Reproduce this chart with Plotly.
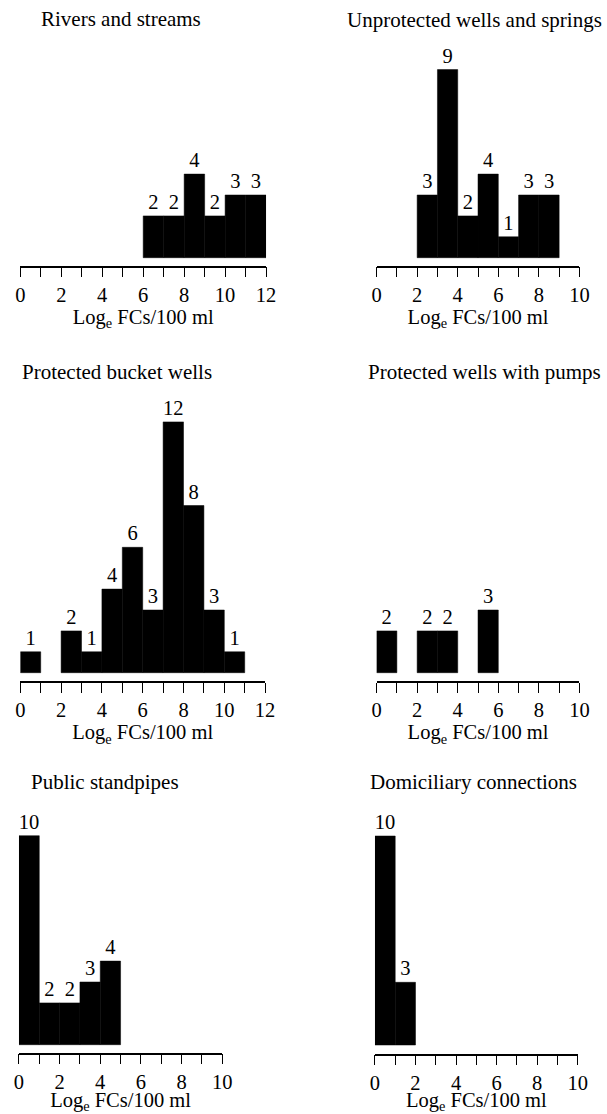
import plotly.graph_objects as go

# ---- data (bin left edges, log_e FCs/100 ml, and counts) ----
titles = ["Rivers and streams", "Unprotected wells and springs",
          "Protected bucket wells", "Protected wells with pumps",
          "Public standpipes", "Domiciliary connections"]

rivers_bins = [6, 7, 8, 9, 10, 11]
rivers_counts = [2, 2, 4, 2, 3, 3]

unprot_bins = [2, 3, 4, 5, 6, 7, 8]
unprot_counts = [3, 9, 2, 4, 1, 3, 3]

bucket_bins = [0, 2, 3, 4, 5, 6, 7, 8, 9, 10]
bucket_counts = [1, 2, 1, 4, 6, 3, 12, 8, 3, 1]

pumps_bins = [0, 2, 3, 5]
pumps_counts = [2, 2, 2, 3]

standpipe_bins = [0, 1, 2, 3, 4]
standpipe_counts = [10, 2, 2, 3, 4]

domicil_bins = [0, 1]
domicil_counts = [10, 3]

x_max = [12, 10, 12, 10, 10, 10]
x_title = "Log<sub>e</sub> FCs/100 ml"

series = [(rivers_bins, rivers_counts), (unprot_bins, unprot_counts),
          (bucket_bins, bucket_counts), (pumps_bins, pumps_counts),
          (standpipe_bins, standpipe_counts), (domicil_bins, domicil_counts)]

# ---- layout geometry (pixels) ----
W, H = 607, 1114
FONT = "Liberation Serif, Times New Roman, serif"
SCALE = 20.9  # px per count
# (x0px, x1px, axis_px, base_px, top_px, title_x, title_y)
geo = [
    (15.7, 267.7, 265.7, 257.7, 40, 35, 19),
    (381.0, 589.0, 265.7, 257.7, 40, 349, 20),
    (15.7, 266.7, 681.0, 672.7, 395, 15, 372),
    (381.0, 589.0, 681.0, 672.7, 395, 370, 372),
    (14.3, 222.7, 1052.5, 1044.7, 800, 25, 782),
    (379.3, 587.3, 1053.5, 1045.0, 800, 372, 782),
]

fig = go.Figure()
layout = dict(width=W, height=H, margin=dict(l=0, r=0, t=0, b=0),
              paper_bgcolor="white", plot_bgcolor="white", showlegend=False,
              font=dict(family=FONT, size=20, color="black"), annotations=[])

for i, ((bins, counts), g) in enumerate(zip(series, geo)):
    x0, x1, ax_px, base_px, top_px, tx, ty = g
    n = "" if i == 0 else str(i + 1)
    fig.add_trace(go.Bar(
        x=bins, y=counts, offset=0, width=1,
        marker=dict(color="black", line=dict(color="black", width=0.5)),
        text=counts, textposition="outside", constraintext="none",
        textfont=dict(family=FONT, size=20.5, color="black"),
        cliponaxis=False, xaxis="x" + n, yaxis="y" + n, hoverinfo="skip"))
    xm = x_max[i]
    layout["xaxis" + n] = dict(
        domain=[x0 / W, x1 / W], range=[0, xm], anchor="y" + n,
        showgrid=False, zeroline=False, showline=True, linecolor="black", linewidth=1.5,
        ticks="outside", ticklen=10, tickwidth=1.3, tickcolor="black",
        tickmode="linear", tick0=0, dtick=2,
        minor=dict(ticks="outside", ticklen=10, tickwidth=1.3, tickcolor="black",
                   tickmode="linear", tick0=0, dtick=1, showgrid=False),
        tickfont=dict(family=FONT, size=20.5, color="black"),
        title=dict(text=x_title, font=dict(family=FONT, size=20.5, color="black"), standoff=4),
        fixedrange=True)
    ybot = -(ax_px - base_px) / SCALE
    ytop = (base_px - top_px) / SCALE
    layout["yaxis" + n] = dict(
        domain=[1 - ax_px / H, 1 - top_px / H], range=[ybot, ytop], anchor="x" + n,
        visible=False, showgrid=False, zeroline=False, fixedrange=True)
    layout["annotations"].append(dict(
        text=titles[i], x=tx / W, y=1 - ty / H, xref="paper", yref="paper",
        xanchor="left", yanchor="middle", showarrow=False,
        font=dict(family=FONT, size=21, color="black")))

fig.update_layout(**layout)
fig.write_html("out.html", config={"displayModeBar": False},
               post_script="document.body.style.margin='0';document.body.style.overflow='hidden';")
